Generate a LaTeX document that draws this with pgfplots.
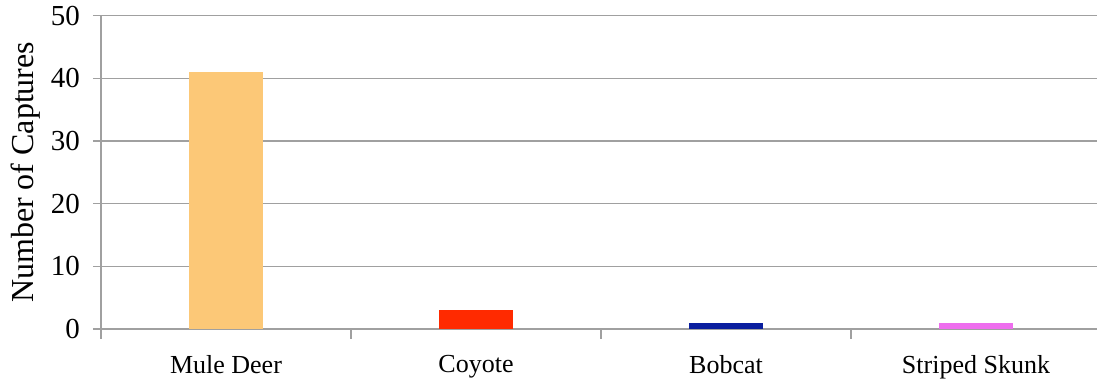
\documentclass[border=0pt]{standalone}
\usepackage{fontspec}
\setmainfont{Liberation Serif}
\usepackage{pgfplots}
\pgfplotsset{compat=1.18}
\definecolor{deer}{HTML}{FCC877}
\definecolor{coyote}{HTML}{FF2A00}
\definecolor{bobcat}{HTML}{0A1E9E}
\definecolor{skunk}{HTML}{EE6EEE}
\definecolor{gridc}{HTML}{A0A0A0}
\begin{document}
\begin{tikzpicture}
\useasboundingbox (0,0) rectangle (548.5pt,189.5pt);
\begin{axis}[
  at={(50.5pt,25pt)}, anchor=south west,
  scale only axis, width=498pt, height=156.65pt,
  xmin=-0.5, xmax=3.484, ymin=0, ymax=50,
  axis lines=left, axis line style={gridc, line width=0.7pt, -},
  xtick={0,1,2,3},
  xticklabels={Mule Deer, Coyote, Bobcat, Striped Skunk},
  major x tick style={draw=none},
  minor xtick={-0.5,0.5,1.5,2.5},
  minor x tick style={gridc, line width=0.7pt},
  minor tick length=5pt,
  ytick={0,10,20,30,40,50},
  ymajorgrids, grid style={gridc, line width=0.7pt},
  major y tick style={gridc, line width=0.7pt},
  major tick length=4pt,
  tick align=outside,
  /pgf/number format/assume math mode=true,
  xticklabel style={font=\fontsize{13}{15}\selectfont, yshift=-5.5pt},
  yticklabel style={font=\fontsize{14.5}{17}\selectfont, xshift=-3pt},
  ylabel={Number of Captures},
  ylabel style={font=\fontsize{16}{19}\selectfont, at={(axis description cs:-0.0755,0.5)}, anchor=center, rotate=0},
  ybar, bar width=37pt,
  clip=false,
]
\addplot[fill=deer, draw=none, bar shift=0pt] coordinates {(0,41)};
\addplot[fill=coyote, draw=none, bar shift=0pt] coordinates {(1,3)};
\addplot[fill=bobcat, draw=none, bar shift=0pt] coordinates {(2,1)};
\addplot[fill=skunk, draw=none, bar shift=0pt] coordinates {(3,1)};
\end{axis}
\end{tikzpicture}
\end{document}
